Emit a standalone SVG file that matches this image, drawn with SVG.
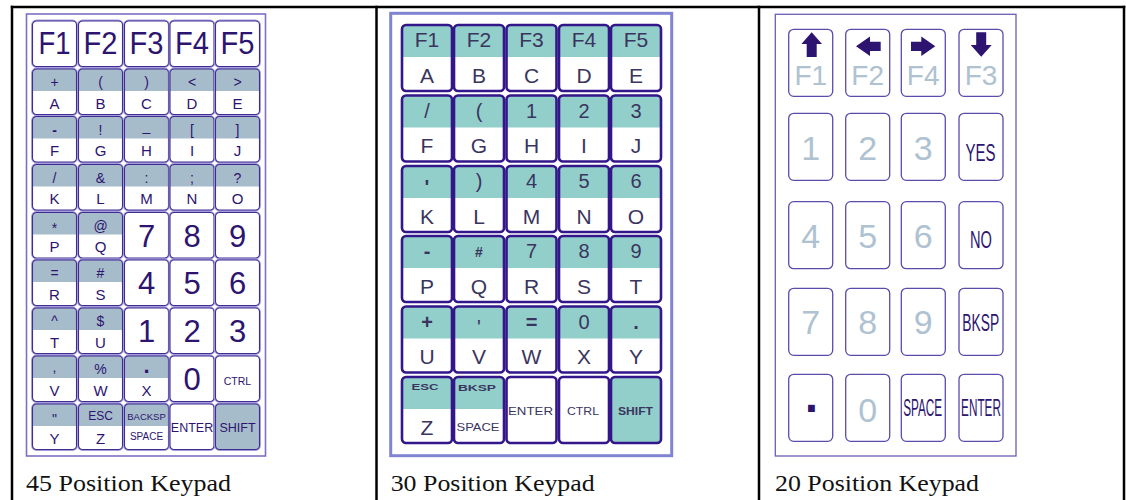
<svg xmlns="http://www.w3.org/2000/svg" xmlns:xlink="http://www.w3.org/1999/xlink" width="1126" height="500" viewBox="0 0 1126 500">
<style>
.t{font-family:"Liberation Sans",Arial,sans-serif;text-anchor:middle}
.a{fill:#2c1470}
.m{fill:#3a355f}
.l{fill:#aec2d1}
.s14{font-size:14px}.s15{font-size:15px}.s31{font-size:31px}
.m20{font-size:20px}.m21{font-size:21px}
.r28{font-size:28px}.r34{font-size:34px}
.cap{font-family:"Liberation Serif","Times New Roman",serif;font-size:24px;fill:#111}
.o45{fill:none;stroke:#3f2d92;stroke-width:1.1}
.h45{fill:none;stroke:#a59ddb;stroke-width:2.8}
.o30{fill:none;stroke:#33168a;stroke-width:2.6}
.o20{fill:#fff;stroke:#5b4cab;stroke-width:1.3}
.border{fill:none;stroke:#000;stroke-width:2.5}
</style>
<defs>
<g id="k45w"><rect width="44" height="45.5" rx="4" class="h45"/><rect width="44" height="45.5" rx="4" fill="#fff"/><rect width="44" height="45.5" rx="4" class="o45"/></g>
<g id="k45s"><rect width="44" height="45.5" rx="4" class="h45"/><rect width="44" height="45.5" rx="4" fill="#fff"/><path d="M0,22V4A4,4 0 0 1 4,0H40A4,4 0 0 1 44,4V22Z" fill="#a7bccb"/><rect width="44" height="45.5" rx="4" class="o45"/></g>
<g id="k45f"><rect width="44" height="45.5" rx="4" class="h45"/><rect width="44" height="45.5" rx="4" fill="#a7bccb"/><rect width="44" height="45.5" rx="4" class="o45"/></g>
<g id="k30w"><rect width="50" height="66" rx="4" fill="#fff"/><rect width="50" height="66" rx="4" class="o30"/></g>
<g id="k30s"><rect width="50" height="66" rx="4" fill="#fff"/><path d="M0,32V4A4,4 0 0 1 4,0H46A4,4 0 0 1 50,4V32Z" fill="#92cfca"/><rect width="50" height="66" rx="4" class="o30"/></g>
<g id="k30f"><rect width="50" height="66" rx="4" fill="#92cfca"/><rect width="50" height="66" rx="4" class="o30"/></g>
<g id="k20"><rect width="44" height="67" rx="5" class="o20"/></g>
</defs>

<g id="table">
<line x1="10.8" y1="7" x2="1125.3" y2="7" class="border"/>
<line x1="12" y1="5.8" x2="12" y2="500" class="border"/>
<line x1="376.5" y1="5.8" x2="376.5" y2="500" class="border"/>
<line x1="759" y1="5.8" x2="759" y2="500" class="border"/>
<line x1="1124" y1="5.8" x2="1124" y2="500" class="border"/>
</g>

<g id="kp45">
<rect x="26.5" y="14" width="239" height="442" fill="#fff" stroke="#7d70c2" stroke-width="1.6"/>
<g id="k45-F1"><use xlink:href="#k45w" x="32.5" y="21"/><text class="t a s31" x="54.5" y="54" textLength="32" lengthAdjust="spacingAndGlyphs">F1</text></g>
<g id="k45-F2"><use xlink:href="#k45w" x="78.5" y="21"/><text class="t a s31" x="100.5" y="54" textLength="34" lengthAdjust="spacingAndGlyphs">F2</text></g>
<g id="k45-F3"><use xlink:href="#k45w" x="124.5" y="21"/><text class="t a s31" x="146.5" y="54" textLength="34" lengthAdjust="spacingAndGlyphs">F3</text></g>
<g id="k45-F4"><use xlink:href="#k45w" x="170" y="21"/><text class="t a s31" x="192" y="54" textLength="34" lengthAdjust="spacingAndGlyphs">F4</text></g>
<g id="k45-F5"><use xlink:href="#k45w" x="215.5" y="21"/><text class="t a s31" x="237.5" y="54" textLength="34" lengthAdjust="spacingAndGlyphs">F5</text></g>

<g id="k45-A"><use xlink:href="#k45s" x="32.5" y="69"/><text class="t a s14" x="54.5" y="87">+</text><text class="t a s15" x="54.5" y="108.5">A</text></g>
<g id="k45-B"><use xlink:href="#k45s" x="78.5" y="69"/><text class="t a s14" x="100.5" y="87">(</text><text class="t a s15" x="100.5" y="108.5">B</text></g>
<g id="k45-C"><use xlink:href="#k45s" x="124.5" y="69"/><text class="t a s14" x="146.5" y="87">)</text><text class="t a s15" x="146.5" y="108.5">C</text></g>
<g id="k45-D"><use xlink:href="#k45s" x="170" y="69"/><text class="t a s14" x="192" y="87">&lt;</text><text class="t a s15" x="192" y="108.5">D</text></g>
<g id="k45-E"><use xlink:href="#k45s" x="215.5" y="69"/><text class="t a s14" x="237.5" y="87">&gt;</text><text class="t a s15" x="237.5" y="108.5">E</text></g>

<g id="k45-F"><use xlink:href="#k45s" x="32.5" y="116.5"/><text class="t a s14" x="54.5" y="134.5" font-weight="bold">-</text><text class="t a s15" x="54.5" y="156">F</text></g>
<g id="k45-G"><use xlink:href="#k45s" x="78.5" y="116.5"/><text class="t a s14" x="100.5" y="134.5">!</text><text class="t a s15" x="100.5" y="156">G</text></g>
<g id="k45-H"><use xlink:href="#k45s" x="124.5" y="116.5"/><text class="t a s14" x="146.5" y="131">_</text><text class="t a s15" x="146.5" y="156">H</text></g>
<g id="k45-I"><use xlink:href="#k45s" x="170" y="116.5"/><text class="t a s14" x="192" y="134.5">[</text><text class="t a s15" x="192" y="156">I</text></g>
<g id="k45-J"><use xlink:href="#k45s" x="215.5" y="116.5"/><text class="t a s14" x="237.5" y="134.5">]</text><text class="t a s15" x="237.5" y="156">J</text></g>

<g id="k45-K"><use xlink:href="#k45s" x="32.5" y="164.5"/><text class="t a s14" x="54.5" y="182.5">/</text><text class="t a s15" x="54.5" y="204">K</text></g>
<g id="k45-L"><use xlink:href="#k45s" x="78.5" y="164.5"/><text class="t a s14" x="100.5" y="182.5">&amp;</text><text class="t a s15" x="100.5" y="204">L</text></g>
<g id="k45-M"><use xlink:href="#k45s" x="124.5" y="164.5"/><text class="t a s14" x="146.5" y="182.5">:</text><text class="t a s15" x="146.5" y="204">M</text></g>
<g id="k45-N"><use xlink:href="#k45s" x="170" y="164.5"/><text class="t a s14" x="192" y="182.5">;</text><text class="t a s15" x="192" y="204">N</text></g>
<g id="k45-O"><use xlink:href="#k45s" x="215.5" y="164.5"/><text class="t a s14" x="237.5" y="182.5">?</text><text class="t a s15" x="237.5" y="204">O</text></g>

<g id="k45-P"><use xlink:href="#k45s" x="32.5" y="212.5"/><text class="t a s14" x="54.5" y="233">*</text><text class="t a s15" x="54.5" y="252">P</text></g>
<g id="k45-Q"><use xlink:href="#k45s" x="78.5" y="212.5"/><text class="t a s14" x="100.5" y="230.5">@</text><text class="t a s15" x="100.5" y="252">Q</text></g>
<g id="k45-7"><use xlink:href="#k45w" x="124.5" y="212.5"/><text class="t a s31" x="146.5" y="246.5">7</text></g>
<g id="k45-8"><use xlink:href="#k45w" x="170" y="212.5"/><text class="t a s31" x="192" y="246.5">8</text></g>
<g id="k45-9"><use xlink:href="#k45w" x="215.5" y="212.5"/><text class="t a s31" x="237.5" y="246.5">9</text></g>

<g id="k45-R"><use xlink:href="#k45s" x="32.5" y="260"/><text class="t a s14" x="54.5" y="278">=</text><text class="t a s15" x="54.5" y="299.5">R</text></g>
<g id="k45-S"><use xlink:href="#k45s" x="78.5" y="260"/><text class="t a s14" x="100.5" y="278">#</text><text class="t a s15" x="100.5" y="299.5">S</text></g>
<g id="k45-4"><use xlink:href="#k45w" x="124.5" y="260"/><text class="t a s31" x="146.5" y="294">4</text></g>
<g id="k45-5"><use xlink:href="#k45w" x="170" y="260"/><text class="t a s31" x="192" y="294">5</text></g>
<g id="k45-6"><use xlink:href="#k45w" x="215.5" y="260"/><text class="t a s31" x="237.5" y="294">6</text></g>

<g id="k45-T"><use xlink:href="#k45s" x="32.5" y="308"/><text class="t a s14" x="54.5" y="326">^</text><text class="t a s15" x="54.5" y="347.5">T</text></g>
<g id="k45-U"><use xlink:href="#k45s" x="78.5" y="308"/><text class="t a s14" x="100.5" y="326">$</text><text class="t a s15" x="100.5" y="347.5">U</text></g>
<g id="k45-1"><use xlink:href="#k45w" x="124.5" y="308"/><text class="t a s31" x="146.5" y="342">1</text></g>
<g id="k45-2"><use xlink:href="#k45w" x="170" y="308"/><text class="t a s31" x="192" y="342">2</text></g>
<g id="k45-3"><use xlink:href="#k45w" x="215.5" y="308"/><text class="t a s31" x="237.5" y="342">3</text></g>

<g id="k45-V"><use xlink:href="#k45s" x="32.5" y="356"/><text class="t a s14" x="54.5" y="372">,</text><text class="t a s15" x="54.5" y="395.5">V</text></g>
<g id="k45-W"><use xlink:href="#k45s" x="78.5" y="356"/><text class="t a s14" x="100.5" y="374">%</text><text class="t a s15" x="100.5" y="395.5">W</text></g>
<g id="k45-X"><use xlink:href="#k45s" x="124.5" y="356"/><text class="t a" x="146.5" y="373" font-size="22" font-weight="bold">.</text><text class="t a s15" x="146.5" y="395.5">X</text></g>
<g id="k45-0"><use xlink:href="#k45w" x="170" y="356"/><text class="t a s31" x="192" y="390">0</text></g>
<g id="k45-CTRL"><use xlink:href="#k45w" x="215.5" y="356"/><text class="t a" x="237.5" y="385" font-size="10.5">CTRL</text></g>

<g id="k45-Y"><use xlink:href="#k45s" x="32.5" y="404"/><text class="t a s14" x="54.5" y="424">"</text><text class="t a s15" x="54.5" y="443.5">Y</text></g>
<g id="k45-Z"><use xlink:href="#k45s" x="78.5" y="404"/><text class="t a" x="100.5" y="420" font-size="12">ESC</text><text class="t a s15" x="100.5" y="443.5">Z</text></g>
<g id="k45-BACKSP"><use xlink:href="#k45s" x="124.5" y="404"/><text class="t a" x="146.5" y="419.5" font-size="9.5">BACKSP</text><text class="t a" x="146.5" y="440" font-size="10">SPACE</text></g>
<g id="k45-ENTER"><use xlink:href="#k45w" x="170" y="404"/><text class="t a" x="192" y="431.5" font-size="12.5">ENTER</text></g>
<g id="k45-SHIFT"><use xlink:href="#k45f" x="215.5" y="404"/><text class="t a" x="237.5" y="431.5" font-size="12.5">SHIFT</text></g>
</g>

<g id="kp30">
<rect x="390.7" y="13.3" width="281" height="442.4" fill="#fff" stroke="#8084d2" stroke-width="3"/>
<g id="k30-A"><use xlink:href="#k30s" x="402" y="25"/><text class="t m m21" x="427" y="47">F1</text><text class="t m m21" x="427" y="82.5">A</text></g>
<g id="k30-B"><use xlink:href="#k30s" x="454" y="25"/><text class="t m m21" x="479" y="47">F2</text><text class="t m m21" x="479" y="82.5">B</text></g>
<g id="k30-C"><use xlink:href="#k30s" x="506.5" y="25"/><text class="t m m21" x="531.5" y="47">F3</text><text class="t m m21" x="531.5" y="82.5">C</text></g>
<g id="k30-D"><use xlink:href="#k30s" x="559" y="25"/><text class="t m m21" x="584" y="47">F4</text><text class="t m m21" x="584" y="82.5">D</text></g>
<g id="k30-E"><use xlink:href="#k30s" x="611" y="25"/><text class="t m m21" x="636" y="47">F5</text><text class="t m m21" x="636" y="82.5">E</text></g>

<g id="k30-F"><use xlink:href="#k30s" x="402" y="95.5"/><text class="t m m20" x="427" y="117.5">/</text><text class="t m m21" x="427" y="153">F</text></g>
<g id="k30-G"><use xlink:href="#k30s" x="454" y="95.5"/><text class="t m m20" x="479" y="117.5">(</text><text class="t m m21" x="479" y="153">G</text></g>
<g id="k30-H"><use xlink:href="#k30s" x="506.5" y="95.5"/><text class="t m m20" x="531.5" y="117.5">1</text><text class="t m m21" x="531.5" y="153">H</text></g>
<g id="k30-I"><use xlink:href="#k30s" x="559" y="95.5"/><text class="t m m20" x="584" y="117.5">2</text><text class="t m m21" x="584" y="153">I</text></g>
<g id="k30-J"><use xlink:href="#k30s" x="611" y="95.5"/><text class="t m m20" x="636" y="117.5">3</text><text class="t m m21" x="636" y="153">J</text></g>

<g id="k30-K"><use xlink:href="#k30s" x="402" y="166"/><text class="t m m20" x="427" y="194" font-weight="bold">'</text><text class="t m m21" x="427" y="223.5">K</text></g>
<g id="k30-L"><use xlink:href="#k30s" x="454" y="166"/><text class="t m m20" x="479" y="188">)</text><text class="t m m21" x="479" y="223.5">L</text></g>
<g id="k30-M"><use xlink:href="#k30s" x="506.5" y="166"/><text class="t m m20" x="531.5" y="188">4</text><text class="t m m21" x="531.5" y="223.5">M</text></g>
<g id="k30-N"><use xlink:href="#k30s" x="559" y="166"/><text class="t m m20" x="584" y="188">5</text><text class="t m m21" x="584" y="223.5">N</text></g>
<g id="k30-O"><use xlink:href="#k30s" x="611" y="166"/><text class="t m m20" x="636" y="188">6</text><text class="t m m21" x="636" y="223.5">O</text></g>

<g id="k30-P"><use xlink:href="#k30s" x="402" y="236"/><text class="t m m20" x="427" y="258" font-weight="bold">-</text><text class="t m m21" x="427" y="293.5">P</text></g>
<g id="k30-Q"><use xlink:href="#k30s" x="454" y="236"/><text class="t m" x="479" y="257" font-size="14" font-weight="bold">#</text><text class="t m m21" x="479" y="293.5">Q</text></g>
<g id="k30-R"><use xlink:href="#k30s" x="506.5" y="236"/><text class="t m m20" x="531.5" y="258">7</text><text class="t m m21" x="531.5" y="293.5">R</text></g>
<g id="k30-S"><use xlink:href="#k30s" x="559" y="236"/><text class="t m m20" x="584" y="258">8</text><text class="t m m21" x="584" y="293.5">S</text></g>
<g id="k30-T"><use xlink:href="#k30s" x="611" y="236"/><text class="t m m20" x="636" y="258">9</text><text class="t m m21" x="636" y="293.5">T</text></g>

<g id="k30-U"><use xlink:href="#k30s" x="402" y="306.5"/><text class="t m m20" x="427" y="328.5" font-weight="bold">+</text><text class="t m m21" x="427" y="364">U</text></g>
<g id="k30-V"><use xlink:href="#k30s" x="454" y="306.5"/><text class="t m m20" x="479" y="334">'</text><text class="t m m21" x="479" y="364">V</text></g>
<g id="k30-W"><use xlink:href="#k30s" x="506.5" y="306.5"/><text class="t m m20" x="531.5" y="328.5" font-weight="bold">=</text><text class="t m m21" x="531.5" y="364">W</text></g>
<g id="k30-X"><use xlink:href="#k30s" x="559" y="306.5"/><text class="t m m20" x="584" y="328.5">0</text><text class="t m m21" x="584" y="364">X</text></g>
<g id="k30-Y"><use xlink:href="#k30s" x="611" y="306.5"/><text class="t m m20" x="636" y="328.5" font-weight="bold">.</text><text class="t m m21" x="636" y="364">Y</text></g>

<g id="k30-Z"><use xlink:href="#k30s" x="402" y="377"/><text class="t m" x="425" y="390" font-size="9" font-weight="bold" textLength="27" lengthAdjust="spacingAndGlyphs">ESC</text><text class="t m m21" x="427" y="434.5">Z</text></g>
<g id="k30-BKSP"><use xlink:href="#k30s" x="454" y="377"/><text class="t m" x="477" y="391" font-size="9" font-weight="bold" textLength="38" lengthAdjust="spacingAndGlyphs">BKSP</text><text class="t m" x="478" y="431" font-size="11" textLength="43" lengthAdjust="spacingAndGlyphs">SPACE</text></g>
<g id="k30-ENTER"><use xlink:href="#k30w" x="506.5" y="377"/><text class="t m" x="530.5" y="415" font-size="11" textLength="45" lengthAdjust="spacingAndGlyphs">ENTER</text></g>
<g id="k30-CTRL"><use xlink:href="#k30w" x="559" y="377"/><text class="t m" x="583" y="415" font-size="10.5" textLength="32" lengthAdjust="spacingAndGlyphs">CTRL</text></g>
<g id="k30-SHIFT"><use xlink:href="#k30f" x="611" y="377"/><text class="t m" x="635.5" y="415" font-size="10.5" font-weight="bold" textLength="35" lengthAdjust="spacingAndGlyphs">SHIFT</text></g>
</g>

<g id="kp20">
<rect x="775.3" y="14.3" width="240.7" height="441.7" fill="#fff" stroke="#6a5fb3" stroke-width="1.3"/>
<g id="k20-F1"><use xlink:href="#k20" x="788.7" y="29.3"/><path d="M811.7,32.3L822,44H816.7V57H806.7V44H801.4Z" class="a"/><text class="t l r28" x="810.8" y="85">F1</text></g>
<g id="k20-F2"><use xlink:href="#k20" x="845.7" y="29.3"/><path d="M856,46.3L870,36.5V41.7H880.7V51H870V56Z" class="a"/><text class="t l r28" x="867.7" y="85">F2</text></g>
<g id="k20-F4"><use xlink:href="#k20" x="901.3" y="29.3"/><path d="M935.3,46.3L921.3,36.5V41.7H911V51H921.3V56Z" class="a"/><text class="t l r28" x="923.2" y="85">F4</text></g>
<g id="k20-F3"><use xlink:href="#k20" x="959" y="29.3"/><path d="M981.2,56.7L970.7,45H976.2V32.3H986.2V45H991.7Z" class="a"/><text class="t l r28" x="981" y="85">F3</text></g>

<g id="k20-1"><use xlink:href="#k20" x="788.7" y="113.3"/><text class="t l r34" x="810.8" y="159.5">1</text></g>
<g id="k20-2"><use xlink:href="#k20" x="845.7" y="113.3"/><text class="t l r34" x="867.7" y="159.5">2</text></g>
<g id="k20-3"><use xlink:href="#k20" x="901.3" y="113.3"/><text class="t l r34" x="923.2" y="159.5">3</text></g>
<g id="k20-YES"><use xlink:href="#k20" x="959" y="113.3"/><text class="t a" transform="translate(980.5,160.5) scale(0.625,1)" font-size="24">YES</text></g>

<g id="k20-4"><use xlink:href="#k20" x="788.7" y="201.7"/><text class="t l r34" x="810.8" y="247.7">4</text></g>
<g id="k20-5"><use xlink:href="#k20" x="845.7" y="201.7"/><text class="t l r34" x="867.7" y="247.7">5</text></g>
<g id="k20-6"><use xlink:href="#k20" x="901.3" y="201.7"/><text class="t l r34" x="923.2" y="247.7">6</text></g>
<g id="k20-NO"><use xlink:href="#k20" x="959" y="201.7"/><text class="t a" transform="translate(981,248) scale(0.61,1)" font-size="24">NO</text></g>

<g id="k20-7"><use xlink:href="#k20" x="788.7" y="288.3"/><text class="t l r34" x="810.8" y="333.5">7</text></g>
<g id="k20-8"><use xlink:href="#k20" x="845.7" y="288.3"/><text class="t l r34" x="867.7" y="333.5">8</text></g>
<g id="k20-9"><use xlink:href="#k20" x="901.3" y="288.3"/><text class="t l r34" x="923.2" y="333.5">9</text></g>
<g id="k20-BKSP"><use xlink:href="#k20" x="959" y="288.3"/><text class="t a" transform="translate(980.7,331) scale(0.6,1)" font-size="23">BKSP</text></g>

<g id="k20-DOT"><use xlink:href="#k20" x="788.7" y="374.3"/><text class="t a" x="811.3" y="411.7" font-size="48" font-weight="bold">.</text></g>
<g id="k20-0"><use xlink:href="#k20" x="845.7" y="374.3"/><text class="t l r34" x="867.7" y="421.5">0</text></g>
<g id="k20-SPACE"><use xlink:href="#k20" x="901.3" y="374.3"/><text class="t a" transform="translate(922.7,416) scale(0.49,1)" font-size="24">SPACE</text></g>
<g id="k20-ENTER"><use xlink:href="#k20" x="959" y="374.3"/><text class="t a" transform="translate(981,416) scale(0.49,1)" font-size="24">ENTER</text></g>
</g>

<g id="captions">
<text class="cap" x="26" y="490.5" textLength="205" lengthAdjust="spacingAndGlyphs">45 Position Keypad</text>
<text class="cap" x="390.7" y="490.5" textLength="204" lengthAdjust="spacingAndGlyphs">30 Position Keypad</text>
<text class="cap" x="775" y="490.5" textLength="204" lengthAdjust="spacingAndGlyphs">20 Position Keypad</text>
</g>
</svg>
